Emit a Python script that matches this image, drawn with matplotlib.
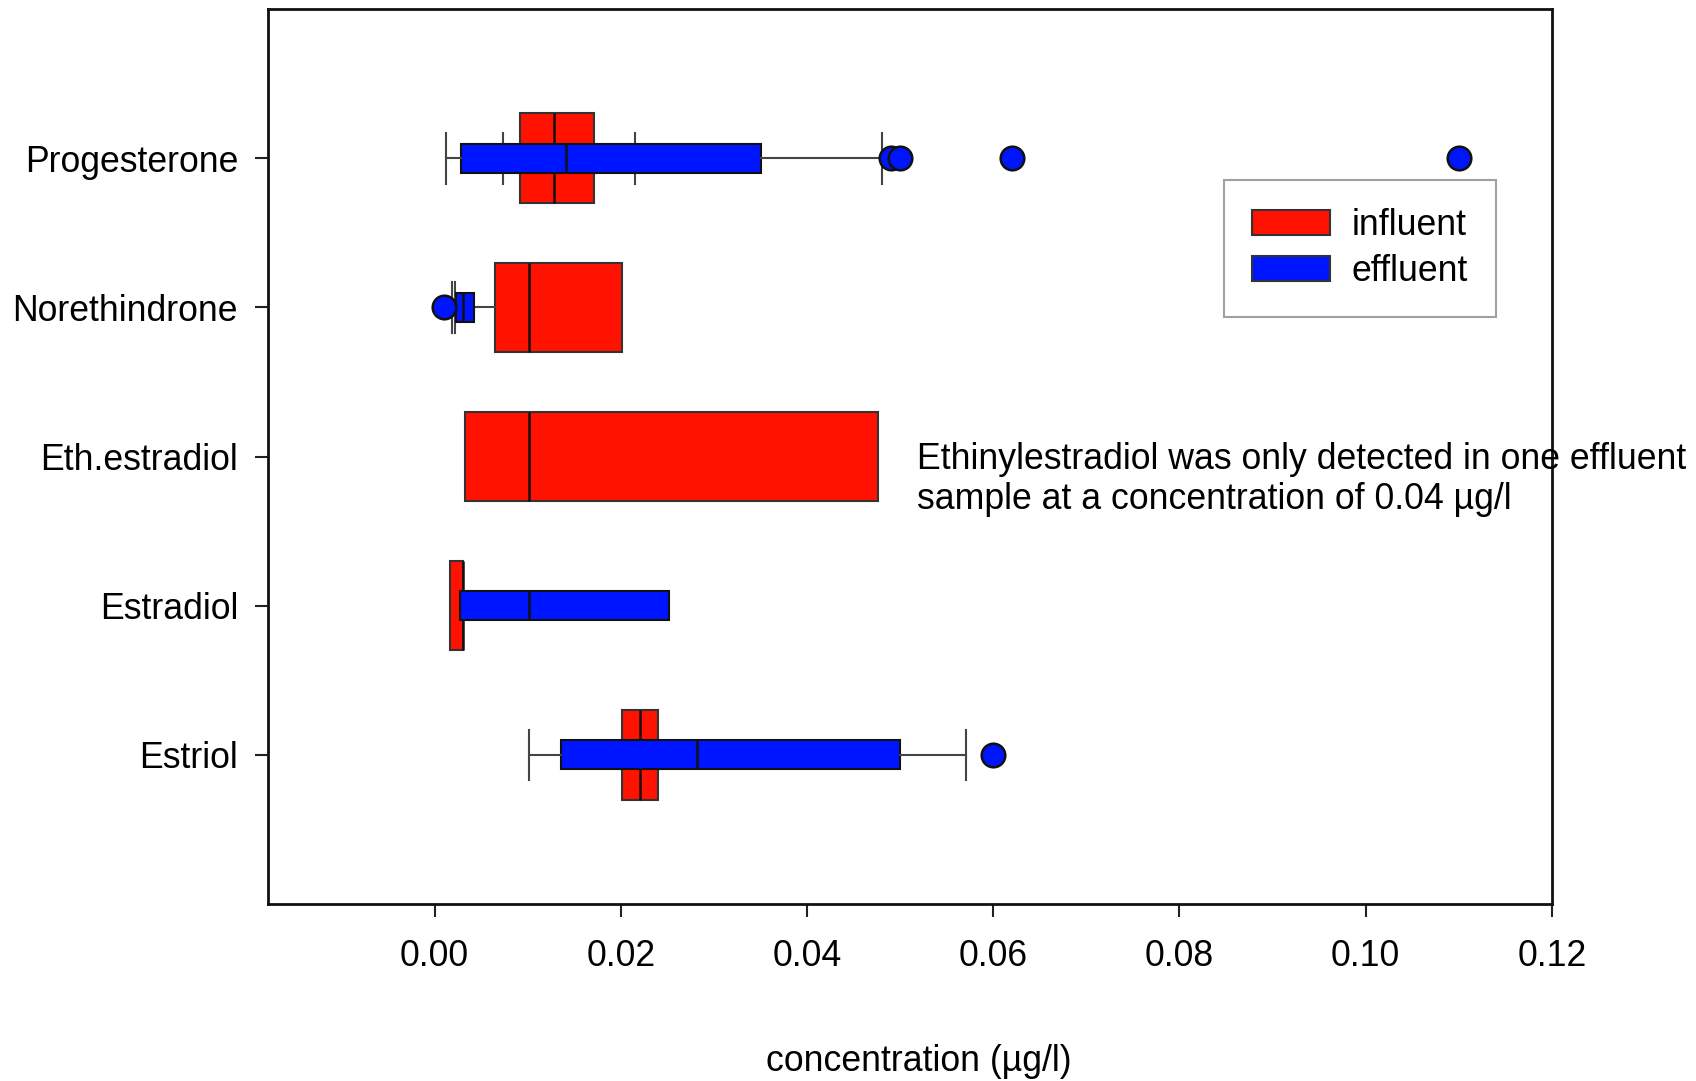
import matplotlib.pyplot as plt

plt.rcParams["font.family"] = ["Liberation Sans", "DejaVu Sans"]

compounds = ["Estriol", "Estradiol", "Eth.estradiol", "Norethindrone", "Progesterone"]
positions = [1, 2, 3, 4, 5]

# influent box stats (ug/l)
inf_whislo = [0.0201, 0.0017, 0.0033, 0.0022, 0.0073]
inf_q1 = [0.0201, 0.0017, 0.0033, 0.0065, 0.0092]
inf_med = [0.0221, 0.0031, 0.0101, 0.0101, 0.0128]
inf_q3 = [0.0240, 0.0031, 0.0476, 0.0201, 0.0171]
inf_whishi = [0.0240, 0.0031, 0.0476, 0.0201, 0.0215]

# effluent box stats (ug/l), no effluent data for Eth.estradiol
eff_pos = [1, 2, 4, 5]
eff_whislo = [0.0101, 0.0027, 0.0019, 0.0012]
eff_q1 = [0.0136, 0.0027, 0.0023, 0.0028]
eff_med = [0.0282, 0.0101, 0.0031, 0.0141]
eff_q3 = [0.0500, 0.0252, 0.0042, 0.0351]
eff_whishi = [0.0571, 0.0252, 0.0042, 0.0480]
eff_fliers = [[0.0600], [], [0.0010], [0.0490, 0.0500, 0.0620, 0.1100]]

note = ("Ethinylestradiol was only detected in one effluent\n"
        "sample at a concentration of 0.04 \u00b5g/l")

red = "#ff1200"
blue = "#0015ff"
fs = 25.7


def make_stats(lo, q1, med, q3, hi, fliers=None):
    stats = []
    for i in range(len(q1)):
        stats.append({
            "whislo": lo[i], "q1": q1[i], "med": med[i], "q3": q3[i],
            "whishi": hi[i], "fliers": fliers[i] if fliers else [],
        })
    return stats


def hide_empty_caps(res, lo, q1, q3, hi):
    # no cap drawn where the whisker does not leave the box
    for i in range(len(q1)):
        if lo[i] >= q1[i]:
            res["caps"][2 * i].set_visible(False)
        if hi[i] <= q3[i]:
            res["caps"][2 * i + 1].set_visible(False)


fig = plt.figure(figsize=(16.96, 10.81), dpi=100)
ax = fig.add_axes([0.158, 0.1637, 0.757, 0.828])

edge = "#333333"
common = dict(
    orientation="horizontal", patch_artist=True, capwidths=0.34,
    whiskerprops=dict(color="#444444", lw=1.5),
    capprops=dict(color="#444444", lw=1.5),
    medianprops=dict(color="#111111", lw=1.8),
)

res_inf = ax.bxp(make_stats(inf_whislo, inf_q1, inf_med, inf_q3, inf_whishi),
                 positions=positions, widths=0.6, zorder=2,
                 boxprops=dict(facecolor=red, edgecolor=edge, lw=1.5), **common)
hide_empty_caps(res_inf, inf_whislo, inf_q1, inf_q3, inf_whishi)

res_eff = ax.bxp(make_stats(eff_whislo, eff_q1, eff_med, eff_q3, eff_whishi, eff_fliers),
                 positions=eff_pos, widths=0.195, zorder=3,
                 boxprops=dict(facecolor=blue, edgecolor="#111111", lw=1.5),
                 flierprops=dict(marker="o", markerfacecolor=blue, markeredgecolor="#111111",
                                 markersize=17, markeredgewidth=1.8),
                 **common)
hide_empty_caps(res_eff, eff_whislo, eff_q1, eff_q3, eff_whishi)

ax.set_xlim(-0.0179, 0.12)
ax.set_ylim(0, 6)
ax.set_xticks([0.0, 0.02, 0.04, 0.06, 0.08, 0.10, 0.12])
ax.set_xticklabels(["0.00", "0.02", "0.04", "0.06", "0.08", "0.10", "0.12"])
ax.set_yticks(positions)
ax.set_yticklabels(compounds)
ax.tick_params(axis="both", labelsize=fs, length=9.5, width=1.5, color="#222222")
ax.tick_params(axis="x", pad=16)
ax.tick_params(axis="y", pad=12)
for s in ax.spines.values():
    s.set_linewidth(2)
    s.set_color("#111111")

ax.set_xlabel("concentration (\u00b5g/l)", fontsize=fs)
ax.xaxis.set_label_coords(0.507, -0.156)

ax.text(0.0518, 3.10, note, fontsize=fs, va="top", ha="left",
        linespacing=1.2, clip_on=False)

handles = [plt.Rectangle((0, 0), 1, 1, facecolor=red, edgecolor=edge, lw=1.5),
           plt.Rectangle((0, 0), 1, 1, facecolor=blue, edgecolor=edge, lw=1.5)]
leg = ax.legend(handles, ["influent", "effluent"], loc="upper left",
                bbox_to_anchor=(0.7445, 0.809), fontsize=fs, frameon=True,
                fancybox=False, handlelength=2.2, handleheight=0.72,
                handletextpad=0.6, labelspacing=0.32, borderpad=0.78,
                borderaxespad=0)
leg.get_frame().set_edgecolor("#888888")
leg.get_frame().set_linewidth(1.5)

fig.savefig("out.png", dpi=100)
